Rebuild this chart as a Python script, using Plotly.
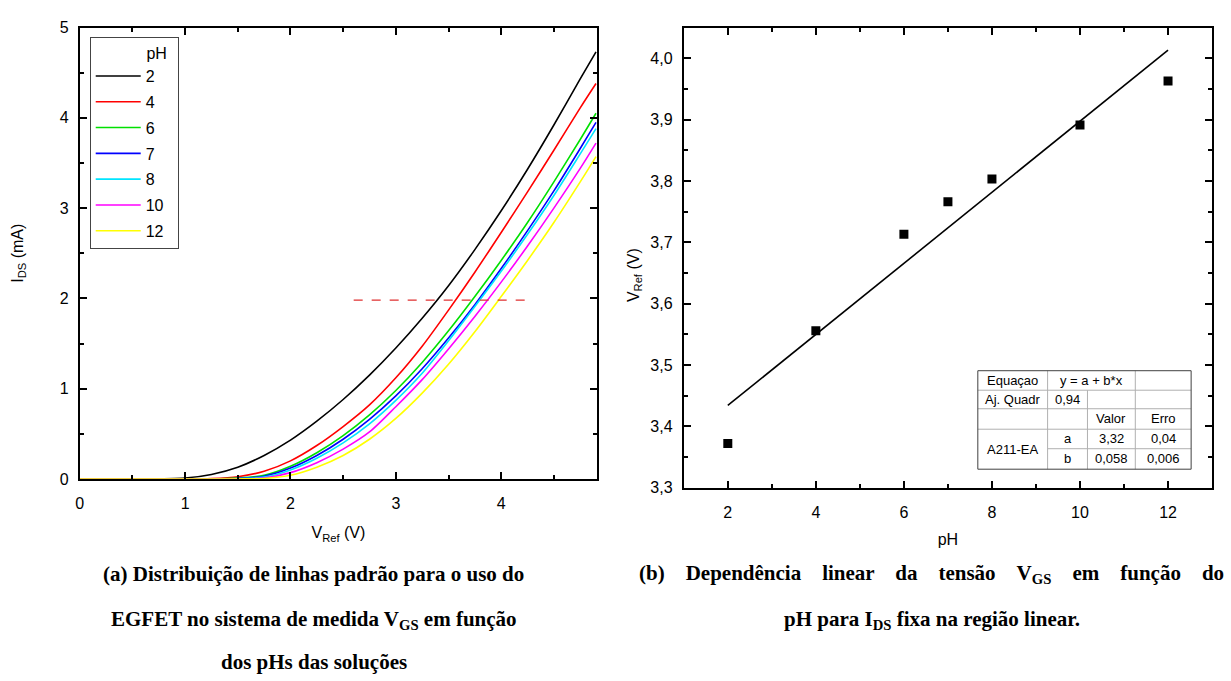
import plotly.graph_objects as go

# ---------------- data: panel (a) ----------------
v_ref = [0, 0.5, 1.0, 1.25, 1.5, 1.75, 2.0, 2.25, 2.5, 2.75, 3.0, 3.25, 3.5, 3.75, 4.0, 4.25, 4.5, 4.75, 4.9]
ph_labels = ["2", "4", "6", "7", "8", "10", "12"]
i_ph2 = [0, 0, 0.01, 0.05, 0.13, 0.26, 0.43, 0.64, 0.88, 1.15, 1.45, 1.78, 2.14, 2.54, 2.97, 3.43, 3.92, 4.43, 4.73]
i_ph4 = [0, 0, 0, 0.005, 0.025, 0.085, 0.20, 0.37, 0.58, 0.82, 1.12, 1.47, 1.87, 2.29, 2.73, 3.18, 3.64, 4.11, 4.38]
i_ph6 = [0, 0, 0, 0, 0.01, 0.04, 0.14, 0.29, 0.48, 0.71, 0.98, 1.29, 1.64, 2.02, 2.42, 2.84, 3.29, 3.76, 4.05]
i_ph7 = [0, 0, 0, 0, 0.005, 0.03, 0.12, 0.26, 0.44, 0.66, 0.92, 1.22, 1.56, 1.93, 2.33, 2.75, 3.19, 3.66, 3.95]
i_ph8 = [0, 0, 0, 0, 0.003, 0.02, 0.10, 0.23, 0.40, 0.61, 0.87, 1.17, 1.53, 1.91, 2.30, 2.71, 3.14, 3.60, 3.88]
i_ph10 = [0, 0, 0, 0, 0, 0.01, 0.07, 0.18, 0.33, 0.52, 0.80, 1.10, 1.44, 1.80, 2.18, 2.58, 3.00, 3.44, 3.72]
i_ph12 = [0, 0, 0, 0, 0, 0.005, 0.04, 0.13, 0.26, 0.44, 0.67, 0.95, 1.27, 1.63, 2.02, 2.42, 2.84, 3.29, 3.57]
curve_colors = ["#000000", "#ff0000", "#00e000", "#0000ff", "#00e5ff", "#ff00ff", "#ffff00"]
ref_x = [2.6, 4.24]
ref_y = [1.98, 1.98]

# ---------------- data: panel (b) ----------------
ph_vals = [2, 4, 6, 7, 8, 10, 12]
vref_vals = [3.372, 3.556, 3.713, 3.766, 3.803, 3.891, 3.963]
fit_x = [2, 12]
fit_y = [3.434, 4.013]
table_cells = [
    ["Equaçao", "y = a + b*x", ""],
    ["Aj. Quadr", "0,94"],
    ["", "", "Valor", "Erro"],
    ["A211-EA", "a", "3,32", "0,04"],
    ["", "b", "0,058", "0,006"],
]

# ---------------- captions (lines; extra word gaps mimic justified text) ----------------
cap_a = ["(a) Distribuição de linhas padrão para o uso do",
         "EGFET no sistema de medida V<sub>GS</sub> em função",
         "dos pHs das soluções"]
cap_a_gap = [1, 1, 1]
cap_b = ["(b) Dependência linear da tensão V<sub>GS</sub> em função do",
         "pH para I<sub>DS</sub> fixa na região linear."]
cap_b_gap = [4, 1]

W, H = 1231, 681
def px(x):
    return x / W
def py(y):
    return 1 - y / H

FONT = "Liberation Sans, Arial, sans-serif"
SERIF = "Liberation Serif, Times New Roman, serif"
PAD = "\u00a0\u00a0"

fig = go.Figure()
curves = [i_ph2, i_ph4, i_ph6, i_ph7, i_ph8, i_ph10, i_ph12]
for lab, ys, col in zip(ph_labels, curves, curve_colors):
    fig.add_trace(go.Scatter(x=v_ref, y=ys, mode="lines", name=lab + PAD,
                             line=dict(color=col, width=1.6, shape="spline", smoothing=0.8),
                             legendgroup=lab, xaxis="x", yaxis="y"))
fig.add_trace(go.Scatter(x=ref_x, y=ref_y, mode="lines", showlegend=False,
                         line=dict(color="#e03030", width=1.2, dash="dash"),
                         xaxis="x", yaxis="y"))

fig.add_trace(go.Scatter(x=fit_x, y=fit_y, mode="lines", showlegend=False,
                         line=dict(color="black", width=1.6), xaxis="x2", yaxis="y2"))
fig.add_trace(go.Scatter(x=ph_vals, y=vref_vals, mode="markers", showlegend=False,
                         marker=dict(symbol="square", size=9, color="black"),
                         xaxis="x2", yaxis="y2"))

axis_common = dict(showline=True, linewidth=2, linecolor="black", mirror="allticks",
                   ticks="inside", ticklen=7, tickwidth=1.5, tickcolor="black",
                   showgrid=False, zeroline=False,
                   tickfont=dict(family=FONT, size=16, color="black"))
title_font = dict(family=FONT, size=16, color="black")

fig.update_layout(
    width=W, height=H, margin=dict(l=0, r=0, t=0, b=0),
    paper_bgcolor="white", plot_bgcolor="white", separators=",.",
    showlegend=True,
    legend=dict(x=px(86), y=py(30), xanchor="left", yanchor="top",
                bordercolor="#444444", borderwidth=1, bgcolor="white",
                font=dict(family=FONT, size=16, color="black"),
                title=dict(text="pH" + PAD, side="top right", font=dict(family=FONT, size=16, color="black")),
                tracegroupgap=2, itemwidth=45),
    xaxis=dict(axis_common, domain=[px(76), px(595)], range=[0, 4.91], dtick=1, tick0=0,
               ticklabelstandoff=9,
               minor=dict(dtick=0.5, ticks="inside", ticklen=4, tickwidth=1.5, tickcolor="black"),
               title=dict(text="V<sub>Ref</sub> (V)", font=title_font, standoff=16),
               anchor="y"),
    yaxis=dict(axis_common, domain=[py(483), py(20)], range=[0, 5], dtick=1, tick0=0,
               ticklabelstandoff=6,
               minor=dict(dtick=0.5, ticks="inside", ticklen=4, tickwidth=1.5, tickcolor="black"),
               title=dict(text="I<sub>DS</sub> (mA)", font=title_font, standoff=32),
               anchor="x"),
    xaxis2=dict(axis_common, domain=[px(682), px(1212)], range=[1, 13], dtick=2, tick0=0,
                ticklabelstandoff=9,
                minor=dict(dtick=1, ticks="inside", ticklen=4, tickwidth=1.5, tickcolor="black"),
                title=dict(text="pH", font=title_font, standoff=14),
                anchor="y2"),
    yaxis2=dict(axis_common, domain=[py(492), py(20)], range=[3.3, 4.05], dtick=0.1, tick0=3.3,
                tickformat=".1f", ticklabelstandoff=6,
                minor=dict(dtick=0.05, ticks="inside", ticklen=4, tickwidth=1.5, tickcolor="black"),
                anchor="x2"),
)

annotations = []
annotations.append(dict(text="V<sub>Ref</sub> (V)", x=px(632), y=py(274), xref="paper", yref="paper",
                        xanchor="center", yanchor="middle",
                        showarrow=False, textangle=-90, font=title_font))

# table in panel (b)
cols = [977, 1047, 1087, 1135, 1191]
rows = [372, 392, 411, 432, 452, 473]
shapes = []
inner = dict(color="#b0b0b0", width=1)
def hline(y, x0, x1):
    shapes.append(dict(type="line", xref="paper", yref="paper", x0=px(x0), x1=px(x1),
                       y0=py(y), y1=py(y), line=inner))
def vline(x, y0, y1):
    shapes.append(dict(type="line", xref="paper", yref="paper", x0=px(x), x1=px(x),
                       y0=py(y0), y1=py(y1), line=inner))
hline(rows[1], cols[0], cols[4])
hline(rows[2], cols[0], cols[4])
hline(rows[3], cols[0], cols[4])
hline(rows[4], cols[1], cols[4])
vline(cols[1], rows[0], rows[5])
vline(cols[2], rows[1], rows[5])
vline(cols[3], rows[0], rows[5])
shapes.append(dict(type="rect", xref="paper", yref="paper", x0=px(cols[0]), x1=px(cols[4]),
                   y0=py(rows[5]), y1=py(rows[0]), line=dict(color="#404040", width=1),
                   fillcolor="rgba(0,0,0,0)"))

def cell(text, xc, yc):
    if text:
        annotations.append(dict(text=text, x=px(xc), y=py(yc), xref="paper", yref="paper",
                                xanchor="center", yanchor="middle",
                                showarrow=False, font=dict(family=FONT, size=13, color="black")))
mid = lambda a, b: (a + b) / 2
cell(table_cells[0][0], mid(cols[0], cols[1]), mid(rows[0], rows[1]))
cell(table_cells[0][1], mid(cols[1], cols[3]), mid(rows[0], rows[1]))
cell(table_cells[1][0], mid(cols[0], cols[1]), mid(rows[1], rows[2]))
cell(table_cells[1][1], mid(cols[1], cols[2]), mid(rows[1], rows[2]))
cell(table_cells[2][2], mid(cols[2], cols[3]), mid(rows[2], rows[3]))
cell(table_cells[2][3], mid(cols[3], cols[4]), mid(rows[2], rows[3]))
cell(table_cells[3][0], mid(cols[0], cols[1]), mid(rows[3], rows[5]))
for r in (3, 4):
    yc = mid(rows[r], rows[r + 1])
    cell(table_cells[r][1], mid(cols[1], cols[2]), yc)
    cell(table_cells[r][2], mid(cols[2], cols[3]), yc)
    cell(table_cells[r][3], mid(cols[3], cols[4]), yc)

# captions
cap_y = [581, 628, 671]
def spaced(t, n):
    return t.replace(" ", " " + "\u00a0" * (n - 1)) if n > 1 else t
for i, (t, g) in enumerate(zip(cap_a, cap_a_gap)):
    annotations.append(dict(text="<b>" + spaced(t, g) + "</b>", x=px(311), y=py(cap_y[i]),
                            xref="paper", yref="paper", xanchor="center", yanchor="middle",
                            showarrow=False, font=dict(family=SERIF, size=21, color="black")))
for i, (t, g) in enumerate(zip(cap_b, cap_b_gap)):
    annotations.append(dict(text="<b>" + spaced(t, g) + "</b>", x=px(931), y=py(cap_y[i]),
                            xref="paper", yref="paper", xanchor="center", yanchor="middle",
                            showarrow=False, font=dict(family=SERIF, size=21, color="black")))

fig.update_layout(annotations=annotations, shapes=shapes)
fig.write_html("out.html")
